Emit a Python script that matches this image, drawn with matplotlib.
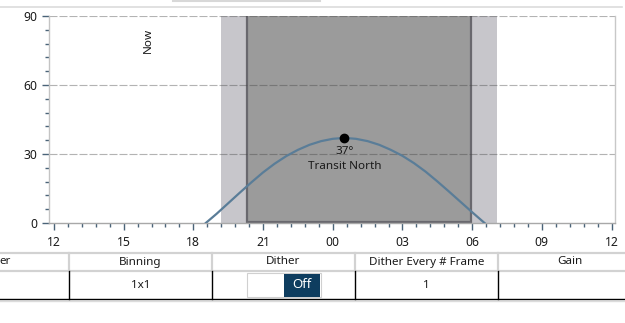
import numpy as np
import matplotlib.pyplot as plt
from matplotlib.ticker import MultipleLocator
from matplotlib.lines import Line2D
from matplotlib.patches import Rectangle

plt.rcParams['font.family'] = ['Noto Sans', 'DejaVu Sans']

# hours after 12:00 noon and altitude in degrees
hours = [6.5, 7.0, 7.5, 8.0, 8.5, 9.0, 9.5, 10.0, 10.5, 11.0, 11.5, 12.0, 12.5,
         13.0, 13.5, 14.0, 14.5, 15.0, 15.5, 16.0, 16.5, 17.0, 17.5, 18.0, 18.5, 19.0]
altitude = [-0.3, 4.0, 8.6, 13.2, 17.7, 22.0, 25.8, 29.1, 31.8, 34.0, 35.6, 36.6, 37.0,
            36.6, 35.6, 34.0, 31.8, 29.2, 26.0, 22.3, 18.1, 13.7, 9.2, 4.7, 0.3, -4.0]

x_ticks = [0, 3, 6, 9, 12, 15, 18, 21, 24]
x_labels = ['12', '15', '18', '21', '00', '03', '06', '09', '12']
y_ticks = [0, 30, 60, 90]

twilight = (7.19, 19.06)   # light band
night = (8.30, 17.94)      # dark band
now_hour = 4.05
transit_hour = 12.5
transit_alt = 37
transit_label = 'Transit North'

headers = ['er', 'Binning', 'Dither', 'Dither Every # Frame', 'Gain']
row_values = ['', '1x1', None, '1', '']
col_edges = [-74, 69, 212, 355, 498, 641]

FS = 8.4
W, H = 625, 323
fig = plt.figure(figsize=(W / 100, H / 100), dpi=100)


def fx(x):
    return x / W


def fy(y):
    return 1 - y / H


ax = fig.add_axes([fx(49), fy(223), (615 - 49) / W, (223 - 16) / H])
ax.set_xlim(-0.215, 24.15)
ax.set_ylim(0, 90)

ax.axvspan(twilight[0], twilight[1], color='#c7c6cb', lw=0, zorder=1)
ax.add_patch(Rectangle((night[0], 0), night[1] - night[0], 90, facecolor='#9b9b9b',
                       edgecolor='none', zorder=1.1))
ax.vlines(night, 0, 90, color='#69686e', lw=1.6, zorder=1.2)
ax.hlines(0.3, night[0], night[1], color='#69686e', lw=1.6, zorder=1.2)

for y in y_ticks[1:]:
    ax.axhline(y, color='#424242', alpha=0.4, lw=0.8, ls=(0, (7.2, 1.8)), zorder=2)

ax.plot(hours, altitude, color='#5a7d98', lw=1.6, zorder=3, solid_capstyle='butt')
ax.plot([transit_hour], [transit_alt], 'o', color='black', ms=6, zorder=4)
ax.text(transit_hour, transit_alt - 3.6, f'{transit_alt}°', ha='center', va='top',
        fontsize=FS, color='#1a1a1a', zorder=4)
ax.text(transit_hour, transit_alt - 10.0, transit_label, ha='center', va='top',
        fontsize=FS, color='#1a1a1a', zorder=4)
ax.text(now_hour, 79.5, 'Now', rotation=90, ha='center', va='center',
        fontsize=FS, color='#1a1a1a')

ax.set_xticks(x_ticks)
ax.set_xticklabels(x_labels)
ax.set_yticks(y_ticks)
ax.xaxis.set_minor_locator(MultipleLocator(0.6))
ax.yaxis.set_minor_locator(MultipleLocator(6))
ax.tick_params(which='major', length=5, width=1, color='#4a6378', labelsize=8.8,
               labelcolor='#1a1a1a')
ax.tick_params(which='minor', length=2.8, width=1, color='#4a6378')
ax.tick_params(axis='x', which='major', pad=4)
ax.tick_params(axis='y', which='major', pad=3.5)

ax.spines['top'].set_visible(False)
ax.spines['left'].set_color('#c4c4c4')
ax.spines['right'].set_color('#c8c8c8')
ax.spines['bottom'].set_color('#a8a8a8')
for s in ax.spines.values():
    s.set_linewidth(1)

# surrounding UI lines
fig.add_artist(Line2D([fx(0), fx(622)], [fy(7), fy(7)], color='#dcdcdc', lw=1.2))
fig.add_artist(Line2D([fx(173), fx(320)], [fy(0.5), fy(0.5)], color='#d8d8d8', lw=1.5))

# table below the chart
grey = '#d2d2d2'
fig.add_artist(Line2D([0, 1], [fy(253), fy(253)], color=grey, lw=1.6))
fig.add_artist(Line2D([0, 1], [fy(270.5), fy(270.5)], color=grey, lw=1.6))
fig.add_artist(Line2D([0, 1], [fy(299), fy(299)], color='black', lw=1))
fig.add_artist(Line2D([0, 1], [fy(300.8), fy(300.8)], color='#dcdcdc', lw=1))
for x in col_edges[1:-1]:
    fig.add_artist(Line2D([fx(x), fx(x)], [fy(253), fy(270.5)], color=grey, lw=1.6))
    fig.add_artist(Line2D([fx(x), fx(x)], [fy(271), fy(299)], color='black', lw=1))

for i, h in enumerate(headers):
    cx = (col_edges[i] + col_edges[i + 1]) / 2
    if i == 0:
        fig.text(fx(-1), fy(262), h, ha='left', va='center', fontsize=FS, color='#1a1a1a')
    else:
        fig.text(fx(cx), fy(262), h, ha='center', va='center', fontsize=FS, color='#1a1a1a')
    v = row_values[i]
    if v:
        fig.text(fx(cx), fy(285), v, ha='center', va='center', fontsize=FS, color='#1a1a1a')

# dither toggle
fig.add_artist(Rectangle((fx(247), fy(297.3)), fx(320.7) - fx(247), fy(273.3) - fy(297.3),
                         facecolor='white', edgecolor='#d0d0d0', lw=0.8,
                         transform=fig.transFigure))
fig.add_artist(Rectangle((fx(284), fy(296.5)), fx(320) - fx(284), fy(274) - fy(296.5),
                         facecolor='#0e3d5f', edgecolor='none', transform=fig.transFigure))
fig.text(fx(302), fy(285), 'Off', ha='center', va='center', fontsize=9.5, color='white')

fig.savefig('out.png', dpi=100)
